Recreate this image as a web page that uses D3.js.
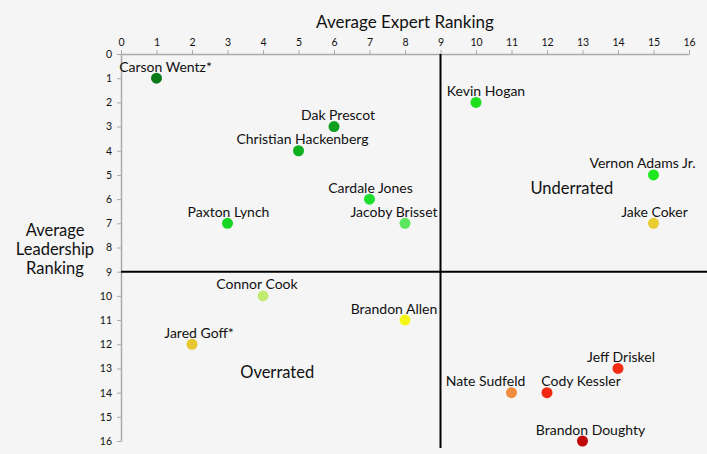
<!DOCTYPE html>
<html>
<head>
<meta charset="utf-8">
<script src="https://cdn.jsdelivr.net/npm/d3@7"></script>
<style>
  html, body { margin: 0; padding: 0; background: #f5f5f5; }
  svg { display: block; font-family: Lato, "Noto Sans", sans-serif; }
</style>
</head>
<body>
<div id="chart"></div>
<script>
// Players with average expert ranking (x) and average leadership ranking (y)
const players = ["Carson Wentz*", "Dak Prescot", "Christian Hackenberg", "Cardale Jones", "Jacoby Brisset",
  "Paxton Lynch", "Kevin Hogan", "Vernon Adams Jr.", "Jake Coker", "Connor Cook", "Brandon Allen",
  "Jared Goff*", "Jeff Driskel", "Nate Sudfeld", "Cody Kessler", "Brandon Doughty"];
const expertRank = [1, 6, 5, 7, 8, 3, 10, 15, 15, 4, 8, 2, 14, 11, 12, 13];
const leadershipRank = [1, 3, 4, 6, 7, 7, 2, 5, 7, 10, 11, 12, 13, 14, 14, 16];
const dotColors = ["#0b7a1b", "#0fa01f", "#11b021", "#1ede2e", "#5ce85e", "#18d626", "#1ede1e", "#20e820",
  "#e8cc30", "#c2ea72", "#f6f614", "#e8c830", "#f42c14", "#f08c40", "#f22810", "#c00808"];
const xTicks = d3.range(0, 17);
const yTicks = d3.range(0, 17);
const quadrantLabels = ["Underrated", "Overrated"];

// label nudges (px) so names sit like the original
const labelDx = {
  "Carson Wentz*": 9, "Dak Prescot": 4, "Christian Hackenberg": 4, "Cardale Jones": 1,
  "Jacoby Brisset": -11, "Paxton Lynch": 1, "Kevin Hogan": 10, "Vernon Adams Jr.": -11,
  "Jake Coker": 1, "Connor Cook": -6, "Brandon Allen": -11, "Jared Goff*": 7,
  "Jeff Driskel": 3, "Nate Sudfeld": -26, "Cody Kessler": 34, "Brandon Doughty": 8
};

const W = 707, H = 454;
const x = d3.scaleLinear().domain([0, 16]).range([121, 689]);
const y = d3.scaleLinear().domain([0, 16]).range([54, 441]);

const svg = d3.select("#chart").append("svg")
  .attr("width", W).attr("height", H);

svg.append("rect").attr("width", W).attr("height", H).attr("fill", "#f5f5f5");

// Axes
const xAxis = svg.append("g")
  .attr("transform", `translate(0,${y(0)})`)
  .call(d3.axisTop(x).tickValues(xTicks).tickSize(4).tickPadding(4).tickSizeOuter(0));
const yAxis = svg.append("g")
  .attr("transform", `translate(${x(0)},0)`)
  .call(d3.axisLeft(y).tickValues(yTicks).tickSize(4).tickPadding(5).tickSizeOuter(0));

[xAxis, yAxis].forEach(a => {
  a.select(".domain").attr("stroke", "#aaa").attr("stroke-width", 1.5);
  a.selectAll(".tick line").attr("stroke", "#aaa");
  a.selectAll(".tick text")
    .attr("fill", "#111")
    .attr("font-size", "10.5px")
    .attr("font-family", "Lato, 'Noto Sans', sans-serif");
});

// Quadrant divider lines at rank 9
svg.append("line")
  .attr("x1", x(9)).attr("x2", x(9))
  .attr("y1", y(0)).attr("y2", H - 6)
  .attr("stroke", "#000").attr("stroke-width", 2);
svg.append("line")
  .attr("x1", x(0)).attr("x2", W)
  .attr("y1", y(9)).attr("y2", y(9))
  .attr("stroke", "#000").attr("stroke-width", 2);

// Axis titles
svg.append("text")
  .attr("x", 405).attr("y", 28)
  .attr("text-anchor", "middle")
  .attr("font-size", "17px")
  .attr("fill", "#111")
  .text("Average Expert Ranking");

const yTitle = svg.append("text")
  .attr("text-anchor", "middle")
  .attr("font-size", "16.5px")
  .attr("fill", "#111");
["Average", "Leadership", "Ranking"].forEach((t, i) => {
  yTitle.append("tspan").attr("x", 55).attr("y", 236 + i * 19).text(t);
});

// Quadrant labels
svg.append("text")
  .attr("x", x(12.7)).attr("y", y(5.8))
  .attr("text-anchor", "middle").attr("font-size", "16.5px").attr("fill", "#111")
  .text(quadrantLabels[0]);
svg.append("text")
  .attr("x", x(4.4)).attr("y", y(13.4))
  .attr("text-anchor", "middle").attr("font-size", "16.5px").attr("fill", "#111")
  .text(quadrantLabels[1]);

// Points
const data = players.map((p, i) => ({ name: p, ex: expertRank[i], ld: leadershipRank[i], color: dotColors[i] }));

svg.selectAll("circle.dot")
  .data(data)
  .join("circle")
  .attr("class", "dot")
  .attr("cx", d => x(d.ex))
  .attr("cy", d => y(d.ld))
  .attr("r", 5.5)
  .attr("fill", d => d.color);

svg.selectAll("text.name")
  .data(data)
  .join("text")
  .attr("class", "name")
  .attr("x", d => x(d.ex) + (labelDx[d.name] || 0))
  .attr("y", d => y(d.ld) - 6.5)
  .attr("text-anchor", "middle")
  .attr("font-size", "14px")
  .attr("fill", "#111")
  .text(d => d.name);
</script>
</body>
</html>
